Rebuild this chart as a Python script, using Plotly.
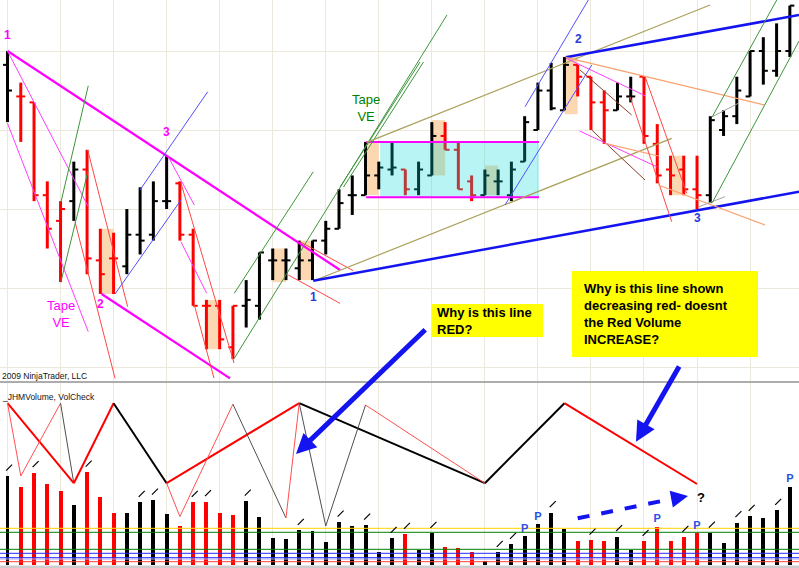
import plotly.graph_objects as go

# ---------------- data ----------------
bars = list(range(60))
opens = [918.25, 914.25, 913.5, 901.75, 898.5, 901.0, 905.0, 893.5, 893.75, 892.75,
         896.75, 896.75, 901.0, 903.25, 896.75, 887.75, 887.75, 882.5, 887.75, 887.75,
         893.5, 893.5, 892.5, 893.5, 896.0, 897.5, 901.75, 901.75, 904.25, 905.0,
         905.0, 902.5, 904.25, 909.25, 907.5, 903.5, 901.75, 903.5, 901.75, 906.0,
         910.0, 915.0, 912.5, 918.25, 916.75, 913.5, 912.5, 914.25, 916.75, 908.25,
         905.0, 905.0, 902.5, 901.75, 910.0, 911.75, 914.25, 920.0, 917.5, 920.0]
highs = [920.0, 916.0, 913.5, 903.5, 901.0, 906.0, 907.5, 897.5, 897.0, 900.0,
         902.75, 903.5, 906.75, 903.5, 897.5, 888.5, 888.5, 887.75, 891.0, 894.5,
         895.0, 895.0, 896.0, 896.0, 898.5, 902.5, 904.25, 908.5, 906.0, 908.5,
         905.0, 906.0, 911.0, 911.0, 908.5, 904.25, 905.0, 905.0, 906.0, 911.75,
         916.0, 918.5, 919.25, 918.25, 916.75, 915.0, 916.0, 916.75, 916.75, 910.75,
         906.75, 906.75, 906.75, 911.75, 912.5, 916.75, 920.0, 921.75, 923.5, 925.75]
lows = [911.0, 908.5, 901.0, 895.0, 890.75, 898.5, 891.75, 889.25, 889.25, 891.75,
        894.25, 896.0, 900.0, 896.0, 887.75, 882.25, 882.25, 881.0, 885.0, 886.0,
        891.0, 891.0, 891.0, 891.0, 894.25, 897.5, 899.25, 901.75, 902.5, 904.25,
        901.75, 901.75, 904.25, 907.5, 902.5, 901.0, 901.75, 901.75, 901.0, 906.0,
        910.0, 912.5, 912.5, 914.25, 910.0, 908.25, 912.5, 913.5, 908.25, 903.25,
        901.75, 901.75, 900.0, 900.75, 909.25, 910.75, 914.25, 915.75, 916.75, 919.25]
closes = [915.0, 914.25, 901.75, 897.5, 900.0, 905.0, 893.75, 891.75, 893.75, 896.75,
          896.0, 901.0, 901.0, 896.75, 887.75, 887.75, 883.5, 887.75, 888.5, 894.5,
          893.5, 893.5, 893.5, 896.0, 897.5, 900.75, 901.75, 904.25, 905.25, 905.25,
          902.5, 905.0, 909.25, 907.5, 902.5, 901.75, 904.25, 903.5, 905.0, 911.0,
          915.0, 912.75, 918.25, 916.75, 913.5, 912.5, 914.25, 914.25, 909.25, 904.25,
          904.25, 902.5, 901.75, 911.25, 911.75, 915.0, 920.0, 917.5, 920.0, 925.75]
down_bars = [1, 2, 3, 4, 6, 7, 8, 13, 14, 15, 16, 17, 30, 33, 34, 35,
             43, 44, 45, 48, 49, 50, 51, 52]
volume_k = [44.5, 38.9, 46.2, 40.7, 37.2, 30.2, 46.5, 34.0, 26.2, 26.2,
            31.4, 32.5, 25.5, 19.4, 31.4, 31.7, 25.9, 25.2, 32.0, 24.0,
            13.4, 12.9, 17.4, 16.9, 11.4, 21.5, 19.7, 20.0, 6.4, 13.4,
            15.4, 7.5, 15.9, 9.2, 8.4, 6.4, 2.0, 6.4, 10.4, 14.5,
            20.5, 26.2, 18.0, 12.2, 12.5, 12.2, 14.2, 7.7, 11.9, 19.2,
            12.2, 13.9, 16.0, 16.0, 11.0, 21.2, 24.4, 23.5, 27.4, 39.2]
vol_flag_bars = [0, 2, 6, 10, 11, 14, 15, 18, 22, 25, 27, 29, 30, 32, 37, 38,
                 41, 44, 46, 48, 51, 53, 55, 56, 58]
vol_p_bars = [39, 40, 49, 52, 59]
vol_levels = [18.35, 16.35, 7.85, 5.85, 3.65, 3.0, 1.65]
vol_level_kind = ['yellow', 'green', 'green', 'blue', 'blue', 'lav', 'red']

# volume zigzag (VolCheck)
zz_thick_bars = [0, 5, 8, 12, 22, 36, 42, 52]
zz_thick_vals = [80.9, 40.9, 80.9, 40.9, 80.9, 40.9, 80.9, 40.5]
zz_thick_kind = ['R', 'R', 'K', 'R', 'K', 'K', 'R']
zz_thin = [(0, 80.9, 1, 44.5, 'R'), (1, 44.5, 4, 80.9, 'R'), (4, 80.9, 5, 40.9, 'K'),
           (12, 40.9, 13, 24.2, 'R'), (13, 24.2, 17, 80.4, 'R'), (17, 80.4, 21, 23.5, 'K'),
           (21, 23.5, 22, 80.9, 'R'), (22, 80.9, 24, 19.5, 'K'), (24, 19.5, 27, 80.0, 'K'),
           (27, 80.0, 36, 40.9, 'R')]

# drawing objects on price panel: (bar1, price1, bar2, price2, kind)
trend_lines = [
    (0, 920.0, 25.08, 892.28, 'mag_thick'),
    (7.1, 889.24, 16.78, 878.57, 'mag_thick'),
    (0, 920.0, 6.09, 900.29, 'mag'),
    (0, 910.85, 6.09, 884.47, 'mag'),
    (12.08, 906.75, 14.09, 900.51, 'mag'),
    (13.08, 895.86, 15.02, 889.33, 'mag'),
    (4.03, 900.87, 6.09, 915.6, 'green'),
    (4.03, 890.8, 6.09, 904.94, 'green'),
    (6.05, 907.47, 9.06, 887.63, 'red'),
    (5.09, 898.39, 8.11, 878.57, 'red'),
    (8.11, 889.24, 13.08, 901.14, 'blue'),
    (9.99, 902.41, 15.1, 914.85, 'blue'),
    (13.08, 903.29, 17.08, 880.51, 'red'),
    (14.09, 887.85, 15.57, 878.6, 'red'),
    (17.1, 889.33, 23.06, 904.72, 'green'),
    (17.1, 881.1, 33.14, 924.56, 'green'),
    (25.08, 902.78, 31.11, 918.61, 'green'),
    (25.34, 902.78, 31.37, 918.61, 'green'),
    (21.18, 891.65, 25.08, 888.06, 'red'),
    (22.06, 895.86, 26.08, 892.19, 'red'),
    (23.06, 890.89, 50.09, 908.95, 'olive'),
    (27.09, 908.44, 52.98, 925.82, 'olive'),
    (23.06, 890.92, 59.69, 902.19, 'blue_thick'),
    (42.1, 919.2, 59.69, 924.56, 'blue_thick'),
    (37.52, 900.51, 44.06, 918.23, 'blue'),
    (39.03, 912.95, 43.8, 926.46, 'blue'),
    (42.1, 919.2, 57.13, 913.16, 'salmon'),
    (42.17, 919.06, 48.08, 914.34, 'mag'),
    (43.18, 917.59, 47.07, 911.9, 'brown'),
    (44.06, 910.0, 48.08, 903.67, 'brown'),
    (43.15, 909.87, 48.96, 905.35, 'mag'),
    (45.06, 908.32, 49.08, 906.71, 'salmon'),
    (46.95, 914.22, 50.09, 898.39, 'red'),
    (48.08, 916.75, 51.22, 901.99, 'red'),
    (49.08, 903.04, 57.13, 897.97, 'salmon'),
    (52.15, 900.29, 54.11, 901.56, 'gray'),
    (53.15, 911.68, 55.11, 913.38, 'gray'),
    (53.15, 911.68, 58.01, 926.46, 'green'),
    (53.15, 900.8, 59.69, 921.27, 'green'),
]
# highlighted bar zones: (bar_start, bar_end, low, high)
shade_zones = [(7, 8, 889.25, 897.5), (15, 16, 882.25, 888.5), (20, 21, 890.75, 895.0),
               (22, 23, 891.0, 896.0), (27, 28, 901.75, 908.5), (32, 33, 904.25, 911.25),
               (36, 37, 901.75, 905.5), (42, 43, 912.0, 919.25), (50, 51, 901.75, 906.75)]
congestion = dict(start=27.05, fill_start=28.1, end=40.08, low=901.5, high=908.5)

# ---------------- styles ----------------
W, H = 799, 568
FONT = "Liberation Sans, Arial, sans-serif"
RED = "rgb(255,0,0)"
BLACK = "rgb(0,0,0)"
GRID = "rgb(236,233,220)"
line_style = {
    'mag_thick': ("rgb(255,0,255)", 2.2), 'mag': ("rgb(255,60,255)", 1),
    'green': ("rgb(60,150,60)", 1), 'red': ("rgb(255,70,70)", 1),
    'blue': ("rgb(80,80,255)", 1), 'blue_thick': ("rgb(20,20,240)", 2.5),
    'olive': ("rgb(170,160,90)", 1.2), 'salmon': ("rgb(250,160,110)", 1.2),
    'brown': ("rgb(140,60,40)", 1), 'gray': ("rgb(165,165,165)", 1),
}
level_col = {'yellow': "rgb(255,210,0)", 'green': "rgb(0,128,0)", 'blue': "rgb(40,40,255)",
             'lav': "rgb(170,170,255)", 'red': "rgb(255,60,60)"}

def px(x):
    return x / W

def py(y):
    return 1 - y / H

fig = go.Figure()

# shaded zones (under bars)
for b0, b1, lo, hi in shade_zones:
    fig.add_trace(go.Scatter(x=[b0, b1, b1, b0, b0], y=[lo, lo, hi, hi, lo], mode='lines',
                             fill='toself', fillcolor="rgb(252,216,178)", line=dict(width=0),
                             hoverinfo='skip', showlegend=False, xaxis='x', yaxis='y'))

# price bars
TW = 0.34
def bar_paths(idx):
    vx, vy, tx, ty = [], [], [], []
    for i in idx:
        vx += [i, i, None]
        vy += [lows[i], highs[i], None]
        tx += [i - TW, i, None, i, i + TW, None]
        ty += [opens[i], opens[i], None, closes[i], closes[i], None]
    return vx, vy, tx, ty

up_idx = [i for i in bars if i not in down_bars]
for idx, col in ((up_idx, BLACK), (down_bars, RED)):
    vx, vy, tx, ty = bar_paths(idx)
    fig.add_trace(go.Scatter(x=vx, y=vy, mode='lines', line=dict(color=col, width=3),
                             hoverinfo='skip', showlegend=False, xaxis='x', yaxis='y'))
    fig.add_trace(go.Scatter(x=tx, y=ty, mode='lines', line=dict(color=col, width=2),
                             hoverinfo='skip', showlegend=False, xaxis='x', yaxis='y'))

# congestion box (semi-transparent over bars)
c = congestion
fig.add_trace(go.Scatter(x=[c['fill_start'], c['end'], c['end'], c['fill_start'], c['fill_start']],
                         y=[c['low'], c['low'], c['high'], c['high'], c['low']], mode='lines',
                         fill='toself', fillcolor="rgba(0,215,215,0.28)", line=dict(width=0),
                         hoverinfo='skip', showlegend=False, xaxis='x', yaxis='y'))
fig.add_trace(go.Scatter(x=[c['start'], c['end'], None, c['start'], c['end']],
                         y=[c['high'], c['high'], None, c['low'], c['low']], mode='lines',
                         line=dict(color="rgb(255,0,255)", width=2),
                         hoverinfo='skip', showlegend=False, xaxis='x', yaxis='y'))

# trend lines
for b1, p1, b2, p2, kind in trend_lines:
    col, w = line_style[kind]
    fig.add_trace(go.Scatter(x=[b1, b2], y=[p1, p2], mode='lines', line=dict(color=col, width=w),
                             hoverinfo='skip', showlegend=False, xaxis='x', yaxis='y'))

# ---------------- volume panel ----------------
for lv, kind in zip(vol_levels, vol_level_kind):
    fig.add_trace(go.Scatter(x=[-1, 61], y=[lv, lv], mode='lines',
                             line=dict(color=level_col[kind], width=1),
                             hoverinfo='skip', showlegend=False, xaxis='x2', yaxis='y2'))

vol_colors = [RED if i in down_bars else BLACK for i in bars]
fig.add_trace(go.Bar(x=bars, y=volume_k, width=0.3, marker=dict(color=vol_colors, line=dict(width=0)),
                     hoverinfo='skip', showlegend=False, xaxis='x2', yaxis='y2'))

fig.add_trace(go.Scatter(x=[b + 0.12 for b in vol_flag_bars], y=[volume_k[b] + 4.2 for b in vol_flag_bars],
                         mode='markers', marker=dict(symbol='line-ne', size=6,
                                                     line=dict(color='black', width=1.2)),
                         hoverinfo='skip', showlegend=False, xaxis='x2', yaxis='y2'))
fig.add_trace(go.Scatter(x=vol_p_bars, y=[volume_k[b] + 0.8 for b in vol_p_bars], mode='text',
                         text=['<b>P</b>'] * len(vol_p_bars), textposition='top center',
                         textfont=dict(color="rgb(40,80,230)", size=11, family=FONT),
                         hoverinfo='skip', showlegend=False, xaxis='x2', yaxis='y2'))

# zigzag lines
for k in range(len(zz_thick_kind)):
    col = RED if zz_thick_kind[k] == 'R' else BLACK
    fig.add_trace(go.Scatter(x=zz_thick_bars[k:k + 2], y=zz_thick_vals[k:k + 2], mode='lines',
                             line=dict(color=col, width=2),
                             hoverinfo='skip', showlegend=False, xaxis='x2', yaxis='y2'))
for b1, v1, b2, v2, kind in zz_thin:
    col = "rgb(255,80,80)" if kind == 'R' else "rgb(80,80,80)"
    fig.add_trace(go.Scatter(x=[b1, b2], y=[v1, v2], mode='lines', line=dict(color=col, width=1),
                             hoverinfo='skip', showlegend=False, xaxis='x2', yaxis='y2'))

# ---------------- layout ----------------
xr = [-0.566, 59.69]
price_dom = [py(381), 1]
vol_dom = [py(566), py(383)]
fig.update_layout(
    width=W, height=H, margin=dict(l=0, r=0, t=0, b=0, pad=0),
    paper_bgcolor='white', plot_bgcolor='white', showlegend=False,
    font=dict(family=FONT, size=11, color='black'),
    xaxis=dict(domain=[0, 1], range=xr, anchor='y', showticklabels=False, ticks='',
               showgrid=True, gridcolor=GRID, gridwidth=1, tick0=0, dtick=4, zeroline=False),
    yaxis=dict(domain=price_dom, range=[878.23, 926.46], showticklabels=False, ticks='',
               showgrid=True, gridcolor=GRID, gridwidth=1, tick0=880, dtick=10, zeroline=False),
    xaxis2=dict(domain=[0, 1], range=xr, anchor='y2', matches='x', showticklabels=False, ticks='',
                showgrid=True, gridcolor=GRID, gridwidth=1, tick0=0, dtick=4, zeroline=False),
    yaxis2=dict(domain=vol_dom, range=[-0.5, 91], showticklabels=False, ticks='',
                showgrid=False, zeroline=False),
    bargap=0,
)

shapes = [
    dict(type='line', xref='paper', yref='paper', x0=0, x1=1, y0=py(382), y1=py(382),
         line=dict(color='rgb(90,90,90)', width=1)),
    dict(type='rect', xref='paper', yref='paper', x0=0, x1=1, y0=0, y1=py(565.5),
         fillcolor='rgb(205,205,205)', line=dict(width=0)),
    dict(type='rect', xref='paper', yref='paper', x0=px(432), x1=px(543), y0=py(337), y1=py(304),
         fillcolor='rgb(255,255,0)', line=dict(width=0)),
    dict(type='rect', xref='paper', yref='paper', x0=px(572), x1=px(758), y0=py(357), y1=py(271),
         fillcolor='rgb(255,255,0)', line=dict(width=0)),
    dict(type='line', xref='paper', yref='paper', x0=px(577.7), y0=py(518.3), x1=px(674), y1=py(498.5),
         line=dict(color='rgb(20,20,240)', width=4, dash='dash')),
]
fig.update_layout(shapes=shapes)

ann = []
def label(text, x, y, color, size=12, bold=True, xanchor='center', yanchor='middle', align='center'):
    t = f"<b>{text}</b>" if bold else text
    ann.append(dict(text=t, x=px(x), y=py(y), xref='paper', yref='paper', showarrow=False,
                    xanchor=xanchor, yanchor=yanchor, align=align,
                    font=dict(color=color, size=size, family=FONT)))

MAG = "rgb(255,0,255)"
BLU = "rgb(40,60,220)"
GRN = "rgb(0,128,0)"
label("1", 7.5, 35, MAG)
label("3", 166.5, 131.5, MAG)
label("2", 100, 303.5, MAG)
label("Tape<br>VE", 61, 314, MAG, size=13, bold=False)
label("Tape<br>VE", 366, 108, GRN, size=13, bold=False)
label("1", 313, 297, BLU)
label("2", 578, 39.5, BLU)
label("3", 697, 218.5, BLU)
label("2009 NinjaTrader, LLC", 0, 375.5, "rgb(20,20,20)", size=8.5, bold=False, xanchor='left')
label("_JHMVolume, VolCheck", 0, 396.5, "rgb(20,20,20)", size=8.5, bold=False, xanchor='left')
label("Why is this line<br>RED?", 435, 320.5, "black", size=13, xanchor='left', align='left')
label("Why is this line shown<br>decreasing red- doesnt<br>the Red Volume<br>INCREASE?", 582, 314,
      "black", size=13, xanchor='left', align='left')
label("?", 701, 497, "black", size=13)

# arrows
def arrow(tip, tail, width=5, size=0.8):
    ann.append(dict(text='', x=px(tip[0]), y=py(tip[1]), xref='paper', yref='paper',
                    ax=tail[0] - tip[0], ay=tail[1] - tip[1], showarrow=True,
                    arrowhead=2, arrowsize=size, arrowwidth=width, arrowcolor='rgb(20,20,240)'))

arrow((296, 454), (426.7, 328.3))
arrow((636, 441.7), (680, 365))
arrow((688, 496), (672, 499), width=4, size=0.85)
fig.update_layout(annotations=ann)

fig.write_html("out.html", include_plotlyjs=True, config={'displayModeBar': False},
               post_script="document.body.style.margin='0';document.body.style.overflow='hidden';")
